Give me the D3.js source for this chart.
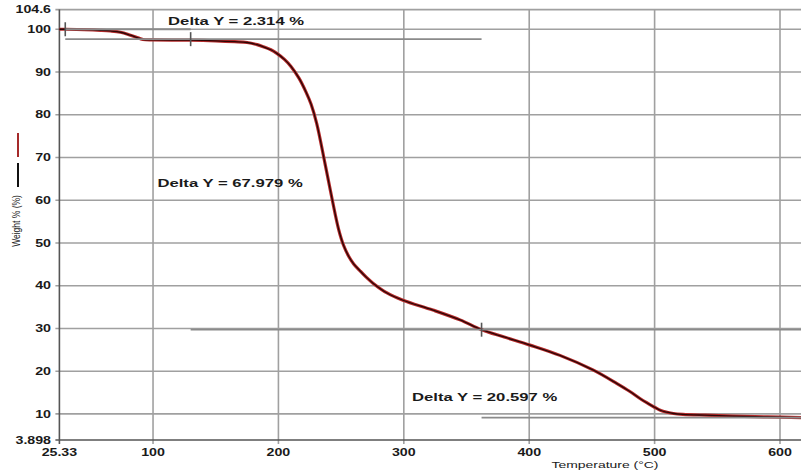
<!DOCTYPE html>
<html>
<head>
<meta charset="utf-8">
<script src="https://cdn.jsdelivr.net/npm/d3@7"></script>
<style>
  html, body { margin: 0; padding: 0; background: #fff; }
  svg { display: block; }
</style>
</head>
<body>
<svg id="chart" width="801" height="473"></svg>
<script>
// TGA weight-loss curve
const temps   = [25.33, 30, 45, 58, 66, 74, 82, 88, 92, 100, 130, 150, 165, 175, 183, 188, 194, 199, 205, 210, 216.5, 222, 226, 230.5, 237, 243, 248, 252, 256, 260, 265, 270, 275.4, 286.6, 299.3, 323.2, 344.8, 362, 380, 400.6, 424.5, 450.8, 470, 480, 488.3, 495, 500.3, 505, 509.9, 515, 522.6, 540, 562.5, 590, 617];
const weights = [100, 100, 99.9, 99.75, 99.6, 99.3, 98.6, 98.0, 97.6, 97.5, 97.45, 97.3, 97.1, 96.9, 96.4, 95.9, 95.2, 94.3, 92.9, 91.3, 88.5, 85.3, 82.5, 78.0, 68.8, 60.0, 53.2, 49.4, 46.9, 45.1, 43.5, 42.0, 40.6, 38.3, 36.6, 34.3, 32.0, 29.707, 28.0, 26.1, 23.7, 20.3, 17.1, 15.3, 13.6, 12.4, 11.5, 10.8, 10.4, 10.1, 9.9, 9.7, 9.5, 9.3, 9.15];

// Step analysis (Delta Y)
const stepStartTemps = [30, 130, 362];
const stepEndTemps   = [130, 362, 617];
const startLevel     = 100;
const deltaValues    = [2.314, 67.979, 20.597];

// label anchors (temperature, weight)
const labelTemps   = [112, 103.5, 306.5];
const labelWeights = [101, 63, 13];

// axes
const xTickValues = [25.33, 100, 200, 300, 400, 500, 600];
const yTickValues = [3.898, 10, 20, 30, 40, 50, 60, 70, 80, 90, 100, 104.6];

const W = 801, H = 473;
const svg = d3.select("#chart");
const SX = 1.42; // horizontal stretch of all text

const x = d3.scaleLinear().domain([25.33, 600]).range([59.4, 780]);
const y = d3.scaleLinear().domain([3.898, 104.6]).range([440, 9.6]);
const plotLeft = x(25.33), plotBottom = y(3.898), plotTop = y(104.6);

function stretchedText(g, px, py, str, opts) {
  return g.append("text")
    .attr("transform", `translate(${px},${py}) scale(${opts.sx || SX},1)`)
    .attr("text-anchor", opts.anchor || "start")
    .attr("font-family", "Liberation Sans, Arial, sans-serif")
    .attr("font-size", opts.size)
    .attr("font-weight", opts.weight || "normal")
    .attr("fill", opts.fill || "#1a1a1a")
    .text(str);
}

// grid
const grid = svg.append("g");
grid.selectAll("line.h").data(yTickValues.filter(v => v !== 3.898)).join("line")
  .attr("x1", plotLeft - 4).attr("x2", W)
  .attr("y1", d => y(d)).attr("y2", d => y(d))
  .attr("stroke", "#a0a0a0").attr("stroke-width", 1.6);
grid.selectAll("line.v").data(xTickValues.filter(v => v !== 25.33)).join("line")
  .attr("x1", d => x(d)).attr("x2", d => x(d))
  .attr("y1", plotTop).attr("y2", plotBottom + 4)
  .attr("stroke", "#a0a0a0").attr("stroke-width", 1.6);

// axis lines
svg.append("line").attr("x1", plotLeft).attr("x2", plotLeft).attr("y1", plotTop).attr("y2", plotBottom + 4)
  .attr("stroke", "#555").attr("stroke-width", 1.6);
svg.append("line").attr("x1", plotLeft - 4).attr("x2", W).attr("y1", plotBottom).attr("y2", plotBottom)
  .attr("stroke", "#555").attr("stroke-width", 1.6);

// tick labels
const labels = svg.append("g");
yTickValues.forEach(v => {
  stretchedText(labels, 51, y(v) + 3.6, String(v), { size: 10, weight: "bold", anchor: "end" });
});
xTickValues.forEach(v => {
  stretchedText(labels, x(v), 456, String(v), { size: 10, weight: "bold", anchor: "middle" });
});
stretchedText(labels, 605, 468, "Temperature (\u00B0C)", { size: 9, anchor: "middle", sx: 1.55 });

// y title
labels.append("text")
  .attr("transform", "translate(20,221) scale(1.25,1) rotate(-90)")
  .attr("text-anchor", "middle")
  .attr("font-family", "Liberation Sans, Arial, sans-serif")
  .attr("font-size", 8.5)
  .attr("fill", "#1a1a1a")
  .text("Weight % (%)");
// series key marks next to title
svg.append("line").attr("x1", 18).attr("x2", 18).attr("y1", 133).attr("y2", 157)
  .attr("stroke", "#a52a2a").attr("stroke-width", 2);
svg.append("line").attr("x1", 18).attr("x2", 18).attr("y1", 163).attr("y2", 187)
  .attr("stroke", "#111").attr("stroke-width", 2);

// step annotations
const levels = [startLevel];
deltaValues.forEach((d, i) => levels.push(+(levels[i] - d).toFixed(3)));
const ann = svg.append("g");
const segs = [];
deltaValues.forEach((d, i) => {
  segs.push({ t0: stepStartTemps[i], t1: stepEndTemps[i], w: levels[i] });
  segs.push({ t0: stepStartTemps[i], t1: stepEndTemps[i], w: levels[i + 1] });
});
ann.selectAll("line.seg").data(segs).join("line")
  .attr("x1", d => x(d.t0)).attr("x2", d => Math.min(x(d.t1), W))
  .attr("y1", d => y(d.w)).attr("y2", d => y(d.w))
  .attr("stroke", "#8a8a8a").attr("stroke-width", 1.8);
const marks = stepStartTemps.map((t, i) => ({ t, w: levels[i] }));
ann.selectAll("line.mk").data(marks).join("line")
  .attr("x1", d => x(d.t)).attr("x2", d => x(d.t))
  .attr("y1", d => y(d.w) - 7).attr("y2", d => y(d.w) + 7)
  .attr("stroke", "#555").attr("stroke-width", 1.6);

// curve: red trace with dark core
const line = d3.line().x(d => x(d[0])).y(d => y(d[1])).curve(d3.curveCatmullRom.alpha(0.5));
const pts = temps.map((t, i) => [t, weights[i]]);
svg.append("path").attr("d", line(pts)).attr("fill", "none")
  .attr("stroke", "#b52a2a").attr("stroke-width", 3.2).attr("stroke-linejoin", "round");
svg.append("path").attr("d", line(pts)).attr("fill", "none")
  .attr("stroke", "#2a0606").attr("stroke-width", 1.3).attr("stroke-linejoin", "round");
// tick marks sit on top of the trace
ann.raise();

// Delta Y labels
deltaValues.forEach((d, i) => {
  stretchedText(svg, x(labelTemps[i]), y(labelWeights[i]), `Delta Y = ${d.toFixed(3)} %`,
    { size: 11.5, weight: "bold", sx: 1.45 });
});
</script>
</body>
</html>
